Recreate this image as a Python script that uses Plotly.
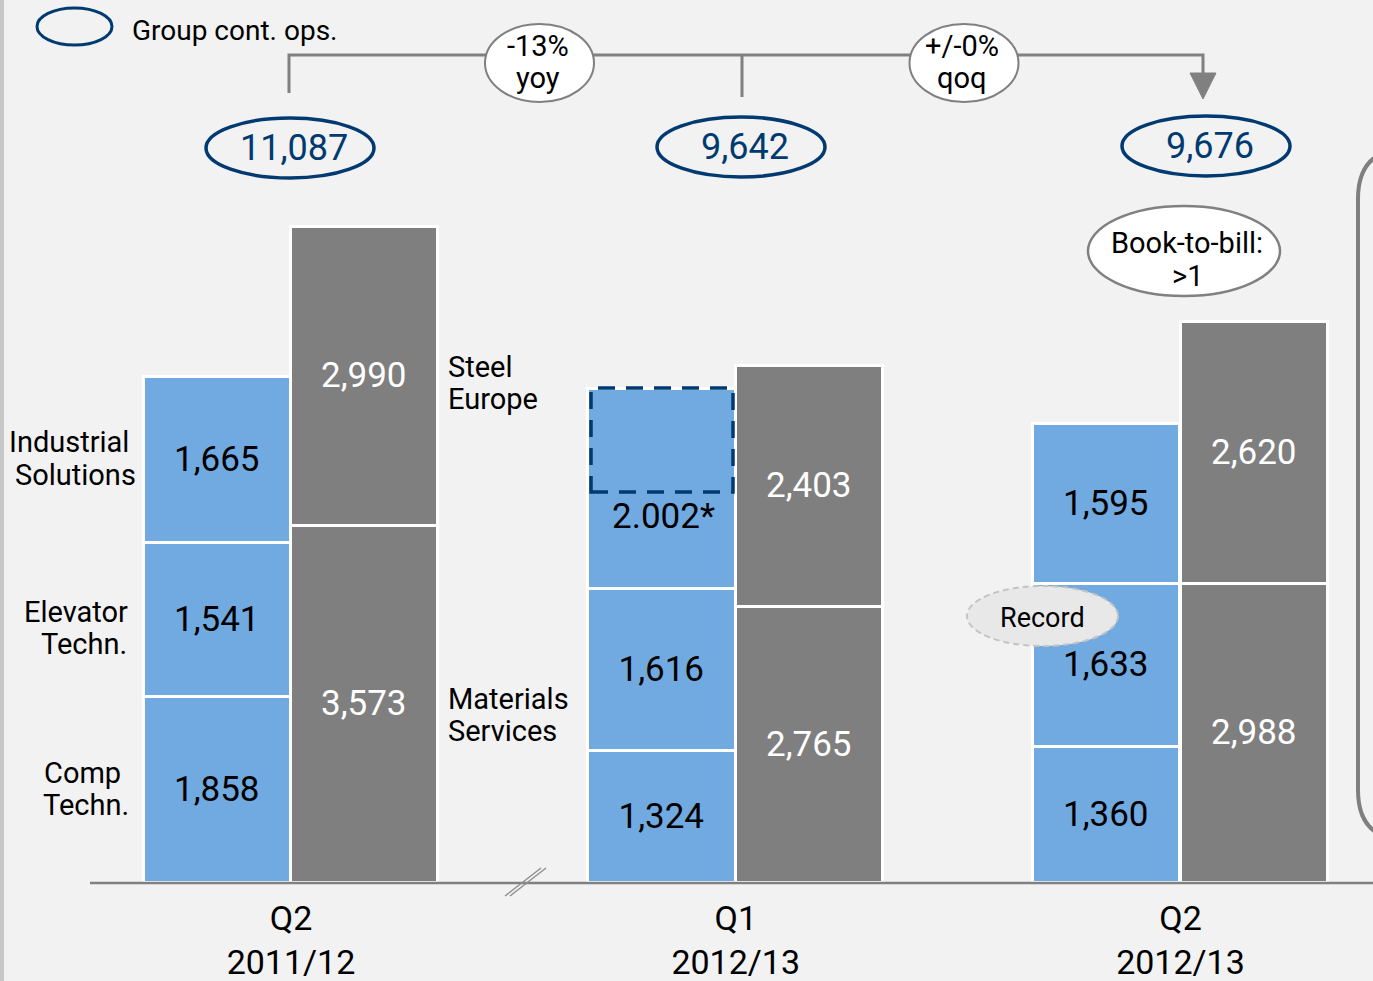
import plotly.graph_objects as go

# ---------------- data ----------------
periods = ["Q2<br>2011/12", "Q1<br>2012/13", "Q2<br>2012/13"]
comp_techn = [1858, 1324, 1360]
elevator_techn = [1541, 1616, 1633]
industrial_solutions = [1665, 2002, 1595]
industrial_solutions_text = ["1,665", "2.002*", "1,595"]
materials_services = [3573, 2765, 2988]
steel_europe = [2990, 2403, 2620]
group_totals = [11087, 9642, 9676]
change_labels = ["-13%<br>yoy", "+/-0%<br>qoq"]

# ---------------- style ----------------
W, H = 1373, 981
BASE_PX = 883          # pixel row of the x axis
BLUE = "#70AAE0"
GREY = "#7F7F7F"
NAVY = "#003A70"
BG = "#F2F2F2"
LINE = "#808080"
FONT = "Roboto"

idx = list(range(len(periods)))
off, bw = 0.166, 0.331
x_blue = [i - off for i in idx]
x_grey = [i + off for i in idx]
X0, XPU = 291.0, 444.75          # pixel of period 0 centre, pixels per period


def px(x):
    return x / W


def py(y):
    return (BASE_PX - y) / BASE_PX


fig = go.Figure()


def add_bar(xs, ys, color, texts, name):
    fig.add_trace(go.Bar(
        x=xs, y=ys, width=bw, name=name,
        marker=dict(color=color, line=dict(color="white", width=3.5)),
        text=texts, textposition="inside", insidetextanchor="middle",
        textangle=0, textfont=dict(family=FONT, size=35,
                                   color="black" if color == BLUE else "white"),
        hoverinfo="skip", showlegend=False, cliponaxis=False,
    ))


fmt = lambda v: f"{v:,}"
add_bar(x_blue, comp_techn, BLUE, [fmt(v) for v in comp_techn], "Comp Techn.")
add_bar(x_blue, elevator_techn, BLUE, [fmt(v) for v in elevator_techn], "Elevator Techn.")
add_bar(x_blue, industrial_solutions, BLUE,
        [t if i != 1 else "" for i, t in enumerate(industrial_solutions_text)],
        "Industrial Solutions")
add_bar(x_grey, materials_services, GREY, [fmt(v) for v in materials_services], "Materials Services")
add_bar(x_grey, steel_europe, GREY, [fmt(v) for v in steel_europe], "Steel Europe")

shapes = []
# left strip
shapes.append(dict(type="rect", xref="paper", yref="paper", x0=0, x1=px(4),
                   y0=py(H), y1=1, fillcolor="#C8C8C8", line_width=0, layer="below"))
# axis line
shapes.append(dict(type="line", xref="paper", yref="paper", x0=px(90), x1=1,
                   y0=0, y1=0, line=dict(color=LINE, width=2.5)))
# break marks
for d in (0, 5):
    shapes.append(dict(type="line", xref="paper", yref="paper",
                       x0=px(505 + d), y0=py(896), x1=px(541 + d), y1=py(868),
                       line=dict(color="#909090", width=1.5)))
# dashed box on Q1 Industrial Solutions
shapes.append(dict(type="rect", xref="paper", yref="paper",
                   x0=px(591), x1=px(733), y0=py(492), y1=py(388),
                   line=dict(color=NAVY, width=3.5, dash="17px,11px")))
# bracket lines
shapes.append(dict(type="path", xref="paper", yref="paper",
                   path=f"M {px(289)},{py(93)} L {px(289)},{py(55)} L {px(1203)},{py(55)} L {px(1203)},{py(76)}",
                   line=dict(color=LINE, width=3)))
shapes.append(dict(type="line", xref="paper", yref="paper",
                   x0=px(742), x1=px(742), y0=py(55), y1=py(97),
                   line=dict(color=LINE, width=3)))
shapes.append(dict(type="path", xref="paper", yref="paper",
                   path=f"M {px(1190)},{py(73)} L {px(1216)},{py(73)} L {px(1203)},{py(99)} Z",
                   fillcolor=LINE, line=dict(color=LINE, width=1)))
# change ellipses
for cx in (539.5, 964):
    shapes.append(dict(type="circle", xref="paper", yref="paper",
                       x0=px(cx - 54.5), x1=px(cx + 54.5), y0=py(102), y1=py(24),
                       fillcolor="white", line=dict(color=LINE, width=2)))
# legend ellipse
shapes.append(dict(type="circle", xref="paper", yref="paper",
                   x0=px(37), x1=px(112), y0=py(45), y1=py(8),
                   line=dict(color=NAVY, width=3)))
# total ellipses
tot_centres = [(290, 148), (741, 147), (1206, 146)]
for cx, cy in tot_centres:
    shapes.append(dict(type="circle", xref="paper", yref="paper",
                       x0=px(cx - 84), x1=px(cx + 84), y0=py(cy + 30), y1=py(cy - 30),
                       line=dict(color=NAVY, width=3.5)))
# book-to-bill ellipse
shapes.append(dict(type="circle", xref="paper", yref="paper",
                   x0=px(1088), x1=px(1280), y0=py(296), y1=py(206),
                   fillcolor="white", line=dict(color=LINE, width=2.5)))
# record ellipse
shapes.append(dict(type="circle", xref="paper", yref="paper",
                   x0=px(967), x1=px(1118), y0=py(646), y1=py(586),
                   fillcolor="#E8E8E8", line=dict(color="#C4C4C4", width=2, dash="6px,4px")))
# rounded frame at the right edge
shapes.append(dict(type="path", xref="paper", yref="paper",
                   path=(f"M {px(1440)},{py(149)} L {px(1407)},{py(149)} "
                         f"Q {px(1358)},{py(149)} {px(1358)},{py(199)} "
                         f"L {px(1358)},{py(790)} Q {px(1358)},{py(840)} {px(1407)},{py(840)} "
                         f"L {px(1440)},{py(840)}"),
                   line=dict(color=GREY, width=4)))

ann = []


def txt(x, y, s, size=29, color="black", xanchor="center", family=FONT):
    ann.append(dict(xref="paper", yref="paper", x=px(x), y=py(y), text=s,
                    showarrow=False, xanchor=xanchor, yanchor="middle",
                    font=dict(family=family, size=size, color=color)))


# legend
txt(130, 30, "Group cont. ops.", size=28, xanchor="left")
# totals
for (cx, cy), v in zip(tot_centres, group_totals):
    txt(cx + 4, cy, f"{v:,}", size=36, color=NAVY)
# change labels
for cx, lab in zip((539.5, 964), change_labels):
    l1, l2 = lab.split("<br>")
    txt(cx - 2, 46, l1, size=29)
    txt(cx - 2, 78, l2, size=29)
# book-to-bill
txt(1187, 243, "Book-to-bill:", size=29)
txt(1187, 276, ">1", size=29)
# record
txt(1042, 618, "Record", size=27)
# Q1 industrial solutions value
txt(663, 516, industrial_solutions_text[1], size=35)
# segment labels, left
for x, y, s in [(131, 442, "Industrial"), (138, 475, "Solutions"),
                (130, 612, "Elevator"), (129, 644, "Techn."),
                (123, 773, "Comp"), (131, 805, "Techn.")]:
    txt(x, y, s, xanchor="right")
# segment labels, right
for y, s in [(367, "Steel"), (399, "Europe"), (699, "Materials"), (731, "Services")]:
    txt(446, y, s, xanchor="left")

fig.update_layout(
    width=W, height=H,
    margin=dict(l=0, r=0, t=0, b=H - BASE_PX),
    paper_bgcolor=BG, plot_bgcolor=BG,
    barmode="stack", bargap=0,
    shapes=shapes, annotations=ann,
    xaxis=dict(range=[-X0 / XPU, (W - X0) / XPU], tickmode="array",
               tickvals=idx, ticktext=periods, showgrid=False, zeroline=False,
               showline=False, ticks="", ticklabelstandoff=12,
               tickfont=dict(family=FONT, size=34, color="black"),
               fixedrange=True),
    yaxis=dict(range=[0, BASE_PX * 10], visible=False, fixedrange=True),
    font=dict(family=FONT),
)

fig.write_html(
    "out.html",
    config={"displayModeBar": False},
    post_script="document.body.style.margin='0px';document.body.style.overflow='hidden';"
                "document.body.style.background='#F2F2F2';",
)
